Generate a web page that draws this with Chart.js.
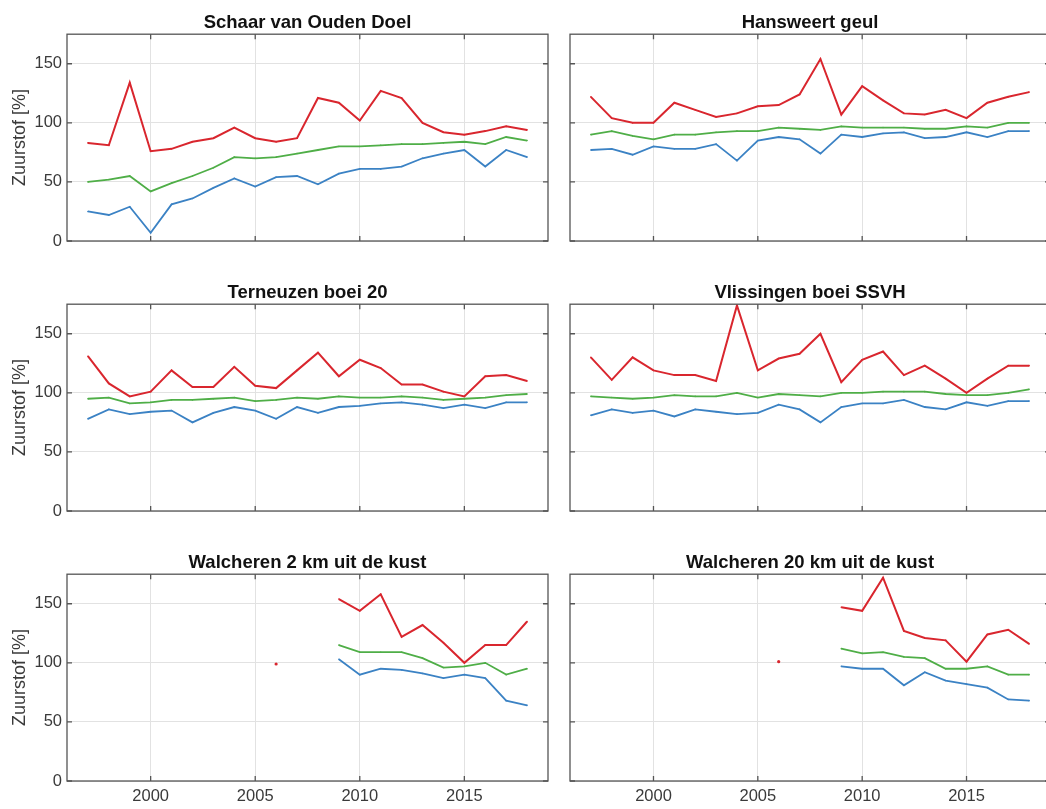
<!DOCTYPE html>
<html>
<head>
<meta charset="utf-8">
<script src="https://cdn.jsdelivr.net/npm/chart.js@4.4.1/dist/chart.umd.min.js"></script>
<style>
  html, body { margin: 0; padding: 0; background: #fff; overflow: hidden; width: 1046px; height: 809px; }
  canvas { position: absolute; }
</style>
</head>
<body>
<script>
// jaren en ticks
const years = [1997, 1998, 1999, 2000, 2001, 2002, 2003, 2004, 2005, 2006, 2007,
               2008, 2009, 2010, 2011, 2012, 2013, 2014, 2015, 2016, 2017, 2018];
const xTicks = [2000, 2005, 2010, 2015];
const yTicks = [0, 50, 100, 150];

const titles = ['Schaar van Ouden Doel', 'Hansweert geul', 'Terneuzen boei 20',
                'Vlissingen boei SSVH', 'Walcheren 2 km uit de kust', 'Walcheren 20 km uit de kust'];

// Schaar van Ouden Doel
const doelRood  = [83, 81, 134, 76, 78, 84, 87, 96, 87, 84, 87, 121, 117, 102, 127, 121, 100, 92, 90, 93, 97, 94];
const doelGroen = [50, 52, 55, 42, 49, 55, 62, 71, 70, 71, 74, 77, 80, 80, 81, 82, 82, 83, 84, 82, 88, 85];
const doelBlauw = [25, 22, 29, 7, 31, 36, 45, 53, 46, 54, 55, 48, 57, 61, 61, 63, 70, 74, 77, 63, 77, 71];

// Hansweert geul
const hansRood  = [122, 104, 100, 100, 117, 111, 105, 108, 114, 115, 124, 154, 107, 131, 119, 108, 107, 111, 104, 117, 122, 126];
const hansGroen = [90, 93, 89, 86, 90, 90, 92, 93, 93, 96, 95, 94, 97, 96, 96, 96, 95, 95, 97, 96, 100, 100];
const hansBlauw = [77, 78, 73, 80, 78, 78, 82, 68, 85, 88, 86, 74, 90, 88, 91, 92, 87, 88, 92, 88, 93, 93];

// Terneuzen boei 20
const terRood  = [131, 108, 97, 101, 119, 105, 105, 122, 106, 104, 119, 134, 114, 128, 121, 107, 107, 101, 97, 114, 115, 110];
const terGroen = [95, 96, 91, 92, 94, 94, 95, 96, 93, 94, 96, 95, 97, 96, 96, 97, 96, 94, 95, 96, 98, 99];
const terBlauw = [78, 86, 82, 84, 85, 75, 83, 88, 85, 78, 88, 83, 88, 89, 91, 92, 90, 87, 90, 87, 92, 92];

// Vlissingen boei SSVH
const vlisRood  = [130, 111, 130, 119, 115, 115, 110, 174, 119, 129, 133, 150, 109, 128, 135, 115, 123, 112, 100, 112, 123, 123];
const vlisGroen = [97, 96, 95, 96, 98, 97, 97, 100, 96, 99, 98, 97, 100, 100, 101, 101, 101, 99, 98, 98, 100, 103];
const vlisBlauw = [81, 86, 83, 85, 80, 86, 84, 82, 83, 90, 86, 75, 88, 91, 91, 94, 88, 86, 92, 89, 93, 93];

// Walcheren 2 km uit de kust
const wal2Rood  = [null, null, null, null, null, null, null, null, null, 99, null, null, 154, 144, 158, 122, 132, 117, 100, 115, 115, 135];
const wal2Groen = [null, null, null, null, null, null, null, null, null, null, null, null, 115, 109, 109, 109, 104, 96, 97, 100, 90, 95];
const wal2Blauw = [null, null, null, null, null, null, null, null, null, null, null, null, 103, 90, 95, 94, 91, 87, 90, 87, 68, 64];

// Walcheren 20 km uit de kust
const wal20Rood  = [null, null, null, null, null, null, null, null, null, 101, null, null, 147, 144, 172, 127, 121, 119, 101, 124, 128, 116];
const wal20Groen = [null, null, null, null, null, null, null, null, null, null, null, null, 112, 108, 109, 105, 104, 95, 95, 97, 90, 90];
const wal20Blauw = [null, null, null, null, null, null, null, null, null, null, null, null, 97, 95, 95, 81, 92, 85, 82, 79, 69, 68];

const panels = [
  [doelRood, doelGroen, doelBlauw],
  [hansRood, hansGroen, hansBlauw],
  [terRood, terGroen, terBlauw],
  [vlisRood, vlisGroen, vlisBlauw],
  [wal2Rood, wal2Groen, wal2Blauw],
  [wal20Rood, wal20Groen, wal20Blauw]
];

const kleuren = ['#d9262e', '#4fae47', '#3b82c4'];
const lijnDikte = [2, 1.8, 1.8];
const fontFam = '"Liberation Sans", Arial, Helvetica, sans-serif';

// kader met tickjes naar binnen, zoals matlab
const kader = {
  id: 'kader',
  afterDatasetsDraw(chart) {
    const { ctx, chartArea: a, scales } = chart;
    ctx.save();
    ctx.strokeStyle = '#555';
    ctx.lineWidth = 1.3;
    ctx.strokeRect(a.left, a.top, a.right - a.left, a.bottom - a.top);
    ctx.beginPath();
    xTicks.forEach(v => {
      const px = scales.x.getPixelForValue(v);
      ctx.moveTo(px, a.bottom); ctx.lineTo(px, a.bottom - 5);
      ctx.moveTo(px, a.top); ctx.lineTo(px, a.top + 5);
    });
    yTicks.forEach(v => {
      const py = scales.y.getPixelForValue(v);
      ctx.moveTo(a.left, py); ctx.lineTo(a.left + 5, py);
      ctx.moveTo(a.right, py); ctx.lineTo(a.right - 5, py);
    });
    ctx.stroke();
    ctx.restore();
  }
};

// losse punten (zonder buren) iets groter, anders alleen een klein stipje
function puntStraal(serie) {
  return c => {
    const n = c.dataIndex;
    const los = (serie[n - 1] == null) && (serie[n + 1] == null);
    return los ? 1.6 : 0.8;
  };
}

function maakGrafiek(i) {
  const col = i % 2, row = Math.floor(i / 2);
  const cv = document.createElement('canvas');
  const w = col === 0 ? 550 : 520;
  cv.width = w; cv.height = 270;
  cv.style.left = (col === 0 ? 0 : 548) + 'px';
  cv.style.top = (row * 270) + 'px';
  cv.style.width = w + 'px'; cv.style.height = '270px';
  document.body.appendChild(cv);

  const datasets = panels[i].map((serie, k) => ({
    data: years.map((j, n) => ({ x: j, y: serie[n] })),
    borderColor: kleuren[k],
    backgroundColor: kleuren[k],
    borderWidth: lijnDikte[k],
    pointRadius: puntStraal(serie),
    pointBorderWidth: 0,
    pointHoverRadius: 0,
    spanGaps: false,
    tension: 0
  })).reverse();

  return new Chart(cv.getContext('2d'), {
    type: 'line',
    data: { datasets },
    options: {
      responsive: false,
      animation: false,
      events: [],
      layout: { padding: { left: 0, right: col === 0 ? 2 : 18, top: 0, bottom: 0 } },
      plugins: {
        legend: { display: false },
        tooltip: { enabled: false },
        title: {
          display: true,
          text: titles[i],
          fullSize: false,
          color: '#111',
          font: { family: fontFam, size: 18.5, weight: 'bold', lineHeight: 1.2 },
          padding: { top: 12, bottom: 0 }
        }
      },
      scales: {
        x: {
          type: 'linear',
          min: 1996,
          max: 2019,
          afterBuildTicks: s => { s.ticks = xTicks.map(v => ({ value: v })); },
          afterFit: s => { s.height = 29; },
          grid: { color: '#e2e2e2', drawTicks: false },
          border: { display: false },
          ticks: {
            display: row === 2,
            padding: 6,
            color: '#3a3a3a',
            font: { family: fontFam, size: 16.5 },
            callback: v => String(v)
          }
        },
        y: {
          min: 0,
          max: 175,
          afterBuildTicks: s => { s.ticks = yTicks.map(v => ({ value: v })); },
          afterFit: s => { s.width = col === 0 ? 67 : 22; },
          grid: { color: '#e2e2e2', drawTicks: false },
          border: { display: false },
          ticks: {
            display: col === 0,
            padding: 5,
            color: '#3a3a3a',
            font: { family: fontFam, size: 16.5 }
          },
          title: {
            display: col === 0,
            text: 'Zuurstof [%]',
            color: '#3a3a3a',
            font: { family: fontFam, size: 18 },
            padding: { top: 9, bottom: 0 }
          }
        }
      }
    },
    plugins: [kader]
  });
}

for (let i = 0; i < 6; i++) maakGrafiek(i);
</script>
</body>
</html>
